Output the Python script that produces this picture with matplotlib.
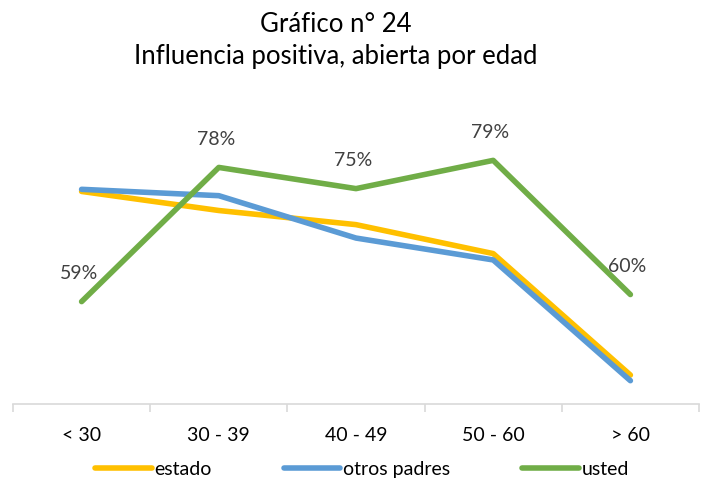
import numpy as np
import matplotlib
matplotlib.use("Agg")
import matplotlib.pyplot as plt

plt.rcParams['font.family'] = ['Lato', 'DejaVu Sans']

categorias = ['< 30', '30 - 39', '40 - 49', '50 - 60', '> 60']
estado = [74.6, 71.9, 69.9, 65.8, 48.6]
otros_padres = [74.9, 74.0, 68.0, 64.9, 47.8]
usted = [59, 78, 75, 79, 60]
etiquetas_usted = ['59%', '78%', '75%', '79%', '60%']

fig = plt.figure(figsize=(7.03, 4.81), dpi=100)
ax = fig.add_axes([13/703, 76/481, 686/703, 286/481])

x = np.arange(len(categorias))
ax.plot(x, estado, color='#FFC000', lw=4, label='estado', solid_capstyle='round')
ax.plot(x, otros_padres, color='#5B9BD5', lw=4, label='otros padres', solid_capstyle='round')
ax.plot(x, usted, color='#70AD47', lw=4, label='usted', solid_capstyle='round')

# etiquetas solo para "usted"
for xi, yi, t in zip(x, usted, etiquetas_usted):
    ax.annotate(t, (xi, yi), xytext=(-2, 21), textcoords='offset points',
                ha='center', va='center', fontsize=14, color='#404040')

ax.set_xlim(-0.5, 4.5)
ax.set_ylim(44.5, 85)

for s in ['top', 'right', 'left']:
    ax.spines[s].set_visible(False)
ax.spines['bottom'].set_color('#D9D9D9')
ax.spines['bottom'].set_linewidth(1.2)
ax.set_yticks([])

ax.set_xticks(np.arange(-0.5, 5, 1))
ax.set_xticklabels([])
ax.tick_params(axis='x', which='major', length=6, color='#D9D9D9', width=1.2)
ax.set_xticks(x, minor=True)
ax.set_xticklabels(categorias, minor=True)
ax.tick_params(axis='x', which='minor', length=0, pad=16, labelsize=14, labelcolor='#000000')

fig.text(336/703, 1 - 24/481, 'Gráfico n° 24', ha='center', va='center', fontsize=18.5)
fig.text(336/703, 1 - 57/481, 'Influencia positiva, abierta por edad', ha='center', va='center', fontsize=18.5)

fig.legend(loc='center', bbox_to_anchor=(362/703, 11/481), ncol=3, frameon=False,
           fontsize=14, handlelength=2.9, columnspacing=3.7, handletextpad=0.15)

fig.savefig('out.png', dpi=100)
